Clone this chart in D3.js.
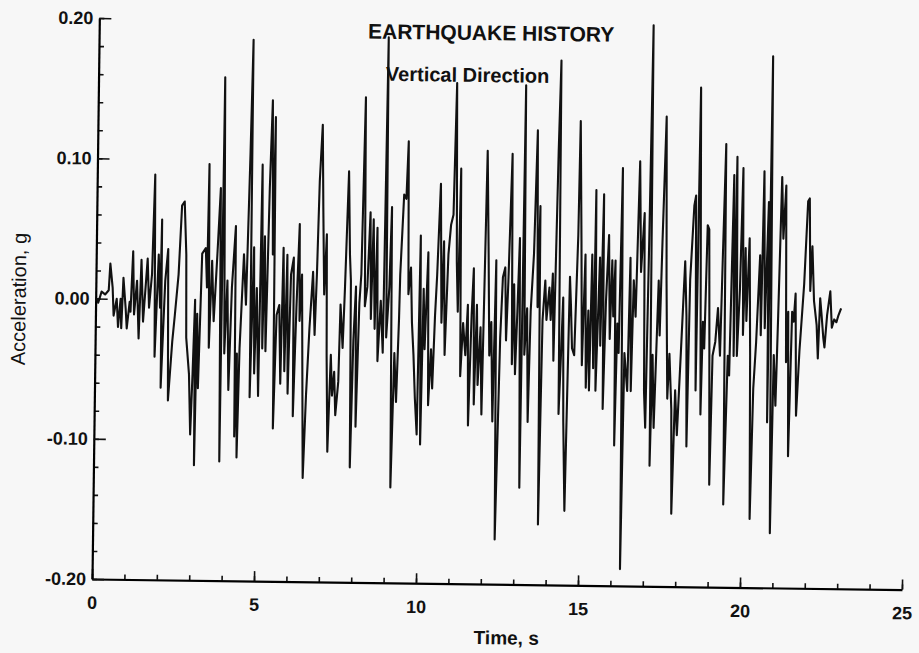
<!DOCTYPE html>
<html>
<head>
<meta charset="utf-8">
<script src="https://cdn.jsdelivr.net/npm/d3@7/dist/d3.min.js"></script>
<style>
  body { margin: 0; background: #f7f7f7; }
  svg { display: block; }
</style>
</head>
<body>
<div id="chart-area"></div>
<script>
// time (s) and vertical acceleration (g)
const TIME = [
  0.05, 0.08, 0.18, 0.29, 0.40, 0.44, 0.52, 0.56, 0.65, 0.70, 0.77, 0.80, 0.85, 0.93, 0.97, 1.05, 1.08, 1.14, 1.19, 1.27,
  1.34, 1.40, 1.47, 1.54, 1.59, 1.65, 1.73, 1.79, 1.84, 1.93, 1.99, 2.02, 2.04, 2.14, 2.22, 2.27, 2.38, 2.45, 2.55, 2.63,
  2.71, 2.78, 2.81, 2.91, 2.97, 3.02, 3.07, 3.10, 3.14, 3.19, 3.27, 3.38, 3.43, 3.46, 3.51, 3.58, 3.65, 3.74, 3.82, 3.88,
  3.91, 3.99, 4.06, 4.13, 4.20, 4.30, 4.33, 4.38, 4.41, 4.46, 4.56, 4.64, 4.72, 4.77, 4.79, 4.87, 4.92, 4.97, 5.05, 5.10,
  5.16, 5.20, 5.26, 5.33, 5.39, 5.45, 5.49, 5.52, 5.59, 5.67, 5.73, 5.78, 5.85, 5.90, 5.96, 6.02, 6.10, 6.13, 6.20, 6.27,
  6.30, 6.36, 6.46, 6.53, 6.61, 6.70, 6.77, 6.82, 6.87, 6.94, 6.99, 7.05, 7.11, 7.15, 7.21, 7.28, 7.33, 7.39, 7.44, 7.52,
  7.56, 7.64, 7.69, 7.77, 7.83, 7.87, 7.91, 7.97, 8.03, 8.07, 8.14, 8.19, 8.26, 8.31, 8.38, 8.45, 8.50, 8.55, 8.62, 8.67,
  8.72, 8.80, 8.88, 8.94, 8.98, 9.06, 9.11, 9.17, 9.24, 9.31, 9.37, 9.39, 9.48, 9.55, 9.60, 9.65, 9.72, 9.77, 9.83, 9.89,
  9.96, 10.01, 10.07, 10.12, 10.17, 10.25, 10.30, 10.37, 10.42, 10.48, 10.53, 10.61, 10.68, 10.73, 10.79, 10.87, 10.94, 11.01, 11.07, 11.13,
  11.18, 11.23, 11.28, 11.35, 11.43, 11.49, 11.54, 11.61, 11.66, 11.71, 11.77, 11.82, 11.89, 11.95, 12.04, 12.11, 12.17, 12.22, 12.29, 12.35,
  12.41, 12.50, 12.56, 12.63, 12.68, 12.73, 12.81, 12.87, 12.91, 12.97, 13.02, 13.07, 13.15, 13.20, 13.25, 13.32, 13.38, 13.43, 13.51, 13.58,
  13.64, 13.69, 13.74, 13.80, 13.87, 13.92, 14.00, 14.05, 14.10, 14.15, 14.23, 14.28, 14.33, 14.38, 14.43, 14.48, 14.55, 14.63, 14.67, 14.72,
  14.79, 14.87, 14.90, 14.97, 15.03, 15.10, 15.16, 15.21, 15.26, 15.31, 15.38, 15.41, 15.46, 15.55, 15.59, 15.65, 15.69, 15.75, 15.82, 15.88,
  15.93, 15.98, 16.03, 16.06, 16.11, 16.16, 16.22, 16.26, 16.29, 16.34, 16.44, 16.49, 16.55, 16.60, 16.67, 16.75, 16.82, 16.91, 16.96, 17.01,
  17.06, 17.11, 17.16, 17.21, 17.27, 17.32, 17.37, 17.42, 17.47, 17.55, 17.61, 17.68, 17.73, 17.81, 17.85, 17.92, 17.99, 18.08, 18.18, 18.24,
  18.29, 18.34, 18.44, 18.49, 18.55, 18.60, 18.71, 18.75, 18.80, 18.86, 18.91, 18.96, 19.01, 19.06, 19.14, 19.21, 19.29, 19.34, 19.40, 19.45,
  19.53, 19.58, 19.66, 19.71, 19.75, 19.81, 19.88, 19.94, 19.99, 20.04, 20.09, 20.16, 20.22, 20.27, 20.33, 20.40, 20.49, 20.54, 20.59, 20.66,
  20.74, 20.77, 20.81, 20.87, 20.90, 20.95, 21.02, 21.07, 21.14, 21.20, 21.27, 21.33, 21.38, 21.43, 21.50, 21.55, 21.60, 21.66, 21.74, 21.86,
  21.95, 22.00, 22.05, 22.10, 22.17, 22.26, 22.31, 22.36, 22.41, 22.47, 22.51, 22.58, 22.67, 22.73, 22.80, 22.87, 22.93, 23.01
]
const ACCEL = [
  0.000, -0.003, 0.005, 0.003, 0.006, 0.025, 0.008, -0.012, 0.000, -0.020, 0.000, -0.021, 0.015, -0.007, -0.021, -0.002, -0.009, 0.034, -0.011, 0.013,
  -0.028, 0.028, -0.016, 0.010, 0.029, -0.006, 0.018, 0.089, -0.041, 0.032, -0.006, 0.057, -0.063, 0.013, 0.036, -0.072, -0.030, -0.011, 0.018, 0.067,
  0.070, 0.032, -0.027, -0.053, -0.096, -0.053, 0.000, -0.118, -0.010, -0.063, 0.033, 0.037, 0.009, 0.097, -0.034, 0.028, -0.015, 0.033, 0.080, -0.115,
  0.159, -0.038, 0.014, -0.064, 0.009, 0.053, -0.097, -0.038, -0.112, -0.034, 0.033, -0.003, 0.104, 0.186, -0.069, 0.038, -0.052, 0.009, -0.068, 0.097,
  -0.034, 0.046, -0.036, 0.080, 0.143, 0.033, 0.131, -0.091, -0.010, -0.003, -0.059, 0.038, -0.050, 0.033, -0.066, 0.019, 0.031, -0.082, -0.004, 0.055,
  -0.014, 0.019, -0.126, -0.067, -0.019, 0.021, -0.024, 0.021, 0.086, 0.126, 0.066, 0.005, 0.048, -0.038, -0.107, -0.038, -0.067, -0.050, -0.081, -0.057,
  -0.002, -0.033, 0.010, 0.093, 0.034, 0.015, -0.118, -0.027, 0.011, -0.089, -0.001, 0.020, 0.146, -0.003, 0.011, 0.064, -0.012, 0.059, -0.019, 0.053,
  -0.042, 0.001, -0.036, 0.189, -0.025, 0.011, 0.068, -0.132, -0.036, -0.071, -0.012, 0.020, 0.077, 0.074, 0.115, 0.006, 0.025, -0.014, -0.037, -0.068,
  -0.094, 0.048, -0.101, 0.010, -0.033, 0.036, -0.073, -0.033, -0.061, -0.009, 0.020, 0.085, -0.014, 0.044, -0.037, 0.035, 0.056, 0.063, 0.157, 0.030,
  -0.006, 0.096, -0.052, -0.014, -0.037, -0.001, -0.087, -0.008, 0.025, -0.072, -0.001, -0.058, -0.017, -0.079, 0.109, 0.035, -0.037, -0.013, -0.084, 0.031,
  -0.168, -0.024, 0.019, 0.026, -0.026, 0.016, 0.107, -0.043, 0.014, -0.050, -0.005, 0.047, -0.131, 0.156, -0.036, -0.003, -0.084, -0.005, 0.036, 0.124,
  -0.002, 0.070, -0.157, -0.011, 0.017, -0.011, 0.012, -0.011, 0.022, -0.040, 0.108, 0.174, -0.078, -0.038, 0.005, -0.083, -0.147, 0.020, 0.000, -0.031,
  -0.036, 0.050, 0.131, 0.045, -0.043, 0.036, -0.059, -0.004, -0.061, 0.036, -0.045, 0.082, -0.061, 0.034, -0.029, 0.079, -0.074, 0.003, 0.050, -0.024,
  0.032, -0.008, 0.032, -0.100, -0.013, -0.034, 0.098, -0.034, -0.188, -0.034, -0.061, 0.034, -0.061, 0.018, -0.008, 0.103, 0.024, 0.066, -0.061, -0.087,
  0.045, 0.200, -0.114, -0.035, -0.087, -0.035, 0.018, -0.021, 0.045, 0.135, 0.019, -0.066, -0.034, -0.074, -0.148, -0.060, -0.092, -0.034, 0.032, -0.007,
  -0.100, 0.019, 0.072, 0.079, -0.060, 0.156, -0.077, -0.011, -0.030, 0.058, 0.055, -0.030, -0.127, -0.035, -0.025, -0.001, -0.035, 0.037, 0.116, -0.141,
  -0.035, -0.049, 0.094, -0.035, 0.107, -0.035, 0.013, 0.099, -0.020, 0.042, -0.010, 0.049, -0.034, -0.151, -0.058, -0.025, 0.037, -0.020, 0.097, -0.015,
  0.075, -0.082, 0.179, -0.087, -0.161, -0.034, -0.070, -0.006, 0.093, 0.049, 0.087, -0.039, -0.003, -0.106, -0.003, -0.010, 0.010, -0.077, -0.031, 0.017,
  0.076, 0.078, 0.012, 0.044, 0.005, -0.012, -0.036, 0.007, -0.005, -0.021, -0.028, -0.005, 0.012, -0.014, -0.008, -0.010, -0.005, 0.000
]

const X_TICKS = [0, 5, 10, 15, 20, 25]
const X_MINOR = d3.range(0, 26, 1)
const Y_TICKS = [-0.2, -0.1, 0, 0.1, 0.2]
const Y_MINOR = d3.range(-0.2, 0.2001, 0.02)
const TITLE = "EARTHQUAKE HISTORY"
const SUBTITLE = "Vertical Direction"
const X_LABEL = "Time, s"
const Y_LABEL = "Acceleration, g"

const WIDTH = 919
const HEIGHT = 653
const ORIGIN = { X: 92, Y: 579 }
const PLOT_W = 810
const PLOT_H = 561
const FONT = "'Liberation Sans', Arial, Helvetica, sans-serif"

const svg = d3.select("#chart-area").append("svg")
  .attr("width", WIDTH)
  .attr("height", HEIGHT)

svg.append("rect")
  .attr("width", WIDTH)
  .attr("height", HEIGHT)
  .attr("fill", "#f7f7f7")

// the scanned page sits slightly askew
const g = svg.append("g")
  .attr("transform", `rotate(0.75, ${ORIGIN.X}, ${ORIGIN.Y})`)

const x = d3.scaleLinear()
  .domain([0, 25])
  .range([ORIGIN.X, ORIGIN.X + PLOT_W])

const y = d3.scaleLinear()
  .domain([-0.2, 0.2])
  .range([ORIGIN.Y, ORIGIN.Y - PLOT_H])

// X axis: minor ticks, then major ticks with labels
g.append("g")
  .attr("transform", `translate(0, ${ORIGIN.Y})`)
  .call(d3.axisBottom(x).tickValues(X_MINOR).tickSize(-5).tickFormat(""))
  .call(a => a.select(".domain").remove())

const xAxis = g.append("g")
  .attr("transform", `translate(0, ${ORIGIN.Y})`)
  .call(d3.axisBottom(x).tickValues(X_TICKS).tickSizeInner(-10).tickSizeOuter(0).tickPadding(17))
xAxis.select(".domain").attr("stroke-width", 2.2)
xAxis.selectAll("text")
  .attr("font-family", FONT)
  .attr("font-size", "18px")
  .attr("font-weight", "bold")
  .attr("fill", "#111")

// Y axis
g.append("g")
  .attr("transform", `translate(${ORIGIN.X}, 0)`)
  .call(d3.axisLeft(y).tickValues(Y_MINOR).tickSize(-5).tickFormat(""))
  .call(a => a.select(".domain").remove())

const yAxis = g.append("g")
  .attr("transform", `translate(${ORIGIN.X}, 0)`)
  .call(d3.axisLeft(y).tickValues(Y_TICKS).tickSizeInner(-12).tickSizeOuter(0).tickPadding(6)
    .tickFormat(d => d.toFixed(2)))
yAxis.select(".domain").attr("stroke-width", 2.2)
yAxis.selectAll("text")
  .attr("font-family", FONT)
  .attr("font-size", "18px")
  .attr("font-weight", "bold")
  .attr("fill", "#111")

g.selectAll(".tick line").attr("stroke", "#111").attr("stroke-width", 1.6)

// the record
const line = d3.line()
  .x(i => x(TIME[i]))
  .y(i => y(ACCEL[i]))

g.append("path")
  .datum(d3.range(TIME.length))
  .attr("d", line)
  .attr("fill", "none")
  .attr("stroke", "#111")
  .attr("stroke-width", 2.1)
  .attr("stroke-linejoin", "round")

// titles
g.append("text")
  .attr("x", 484)
  .attr("y", 35)
  .attr("text-anchor", "middle")
  .attr("font-family", FONT)
  .attr("font-size", "21px")
  .attr("font-weight", "bold")
  .attr("fill", "#111")
  .text(TITLE)

g.append("text")
  .attr("x", 461)
  .attr("y", 77)
  .attr("text-anchor", "middle")
  .attr("font-family", FONT)
  .attr("font-size", "20px")
  .attr("font-weight", "bold")
  .attr("fill", "#111")
  .text(SUBTITLE)

// X label
g.append("text")
  .attr("x", 507)
  .attr("y", 639)
  .attr("text-anchor", "middle")
  .attr("font-family", FONT)
  .attr("font-size", "19px")
  .attr("font-weight", "bold")
  .attr("fill", "#111")
  .text(X_LABEL)

// Y label
g.append("text")
  .attr("x", -300)
  .attr("y", 22)
  .attr("text-anchor", "middle")
  .attr("transform", "rotate(-90)")
  .attr("font-family", FONT)
  .attr("font-size", "20px")
  .attr("fill", "#111")
  .text(Y_LABEL)
</script>
</body>
</html>
